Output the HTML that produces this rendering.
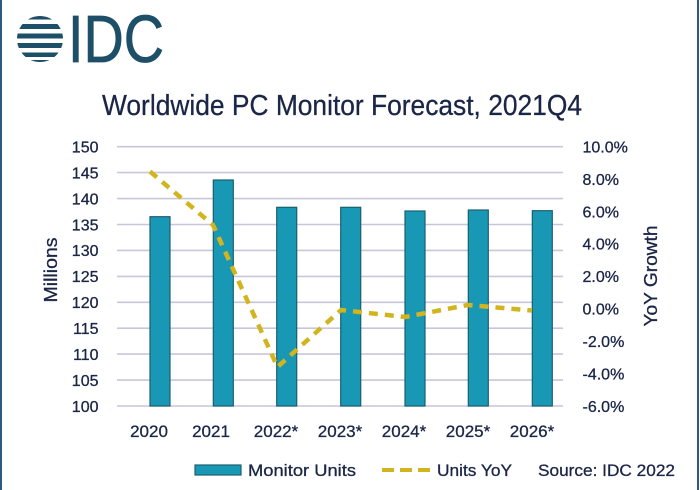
<!DOCTYPE html>
<html>
<head>
<meta charset="utf-8">
<style>
html,body{margin:0;padding:0;background:#fff;}
svg{display:block;}
text{font-family:"Liberation Sans","DejaVu Sans",sans-serif;fill:#1b2647;stroke:#1b2647;stroke-width:0.3px;}
</style>
</head>
<body>
<svg width="700" height="490" viewBox="0 0 700 490" xmlns="http://www.w3.org/2000/svg">
<rect x="0" y="0" width="700" height="490" fill="#fff"/>
<!-- side borders -->
<rect x="0" y="0" width="2" height="490" fill="#2c5a86"/>
<rect x="697" y="0" width="2" height="490" fill="#2c5a86"/>

<!-- IDC logo -->
<defs>
<clipPath id="gc"><circle cx="40" cy="39" r="23"/></clipPath>
</defs>
<g clip-path="url(#gc)" fill="#1d4f68">
<rect x="10" y="15" width="60" height="4.5"/>
<rect x="10" y="24" width="60" height="5"/>
<rect x="10" y="33.5" width="60" height="5"/>
<rect x="10" y="43" width="60" height="5"/>
<rect x="10" y="52.5" width="60" height="4.5"/>
<rect x="10" y="60" width="60" height="4"/>
</g>
<text x="68" y="62" font-size="67" textLength="96" lengthAdjust="spacingAndGlyphs" style="fill:#1d4f68;stroke:#1d4f68;stroke-width:0.8px">IDC</text>

<!-- title -->
<text x="102" y="115" font-size="29" textLength="480" lengthAdjust="spacingAndGlyphs">Worldwide PC Monitor Forecast, 2021Q4</text>

<!-- gridlines -->
<g stroke="#c9c6da" stroke-width="1.6">
<line x1="117" y1="146.7" x2="563" y2="146.7"/>
<line x1="117" y1="172.6" x2="563" y2="172.6"/>
<line x1="117" y1="198.6" x2="563" y2="198.6"/>
<line x1="117" y1="224.5" x2="563" y2="224.5"/>
<line x1="117" y1="250.4" x2="563" y2="250.4"/>
<line x1="117" y1="276.4" x2="563" y2="276.4"/>
<line x1="117" y1="302.3" x2="563" y2="302.3"/>
<line x1="117" y1="328.2" x2="563" y2="328.2"/>
<line x1="117" y1="354.1" x2="563" y2="354.1"/>
<line x1="117" y1="380.1" x2="563" y2="380.1"/>
<line x1="117" y1="406" x2="563" y2="406"/>
</g>

<!-- left tick labels -->
<g font-size="16" text-anchor="end">
<text x="98.5" y="152.5">150</text>
<text x="98.5" y="178.4">145</text>
<text x="98.5" y="204.4">140</text>
<text x="98.5" y="230.3">135</text>
<text x="98.5" y="256.2">130</text>
<text x="98.5" y="282.2">125</text>
<text x="98.5" y="308.1">120</text>
<text x="98.5" y="334">115</text>
<text x="98.5" y="359.9">110</text>
<text x="98.5" y="385.9">105</text>
<text x="98.5" y="411.8">100</text>
</g>

<!-- right tick labels -->
<g font-size="16" text-anchor="start">
<text x="582.5" y="152.5">10.0%</text>
<text x="582.5" y="184.9">8.0%</text>
<text x="582.5" y="217.3">6.0%</text>
<text x="582.5" y="249.7">4.0%</text>
<text x="582.5" y="282.1">2.0%</text>
<text x="582.5" y="314.5">0.0%</text>
<text x="582.5" y="346.9">-2.0%</text>
<text x="582.5" y="379.3">-4.0%</text>
<text x="582.5" y="411.8">-6.0%</text>
</g>

<!-- axis titles -->
<text transform="translate(57,270) rotate(-90)" font-size="18" text-anchor="middle" textLength="65" lengthAdjust="spacingAndGlyphs">Millions</text>
<text transform="translate(657,276) rotate(-90)" font-size="18" text-anchor="middle" textLength="101" lengthAdjust="spacingAndGlyphs">YoY Growth</text>

<!-- bars -->
<g fill="#1898b5" stroke="#1c5f70" stroke-width="1.2">
<rect x="150" y="216.7" width="20" height="189.3"/>
<rect x="213.3" y="180" width="20" height="226"/>
<rect x="276.7" y="207.3" width="20" height="198.7"/>
<rect x="340.7" y="207.3" width="20" height="198.7"/>
<rect x="405" y="211" width="20" height="195"/>
<rect x="468.3" y="210" width="20" height="196"/>
<rect x="532.3" y="210.7" width="20" height="195.3"/>
</g>

<!-- YoY line -->
<polyline points="150,171.5 213,225 277.5,367 341,310 405,317 468,305 532,310.5" fill="none" stroke="#d2b51e" stroke-width="4.5" stroke-dasharray="9 7" stroke-linejoin="round"/>

<!-- x labels -->
<g font-size="17" text-anchor="middle">
<text x="149" y="437">2020</text>
<text x="211" y="437">2021</text>
<text x="276" y="437">2022*</text>
<text x="340" y="437">2023*</text>
<text x="404" y="437">2024*</text>
<text x="468" y="437">2025*</text>
<text x="532" y="437">2026*</text>
</g>

<!-- legend -->
<rect x="195" y="465" width="46" height="10" fill="#1898b5" stroke="#1c5f70" stroke-width="1.2"/>
<text x="248" y="476" font-size="17" textLength="108" lengthAdjust="spacingAndGlyphs">Monitor Units</text>
<line x1="382" y1="470" x2="430" y2="470" stroke="#d2b51e" stroke-width="4" stroke-dasharray="12 6"/>
<text x="437" y="476" font-size="17" textLength="75" lengthAdjust="spacingAndGlyphs">Units YoY</text>
<text x="538" y="476" font-size="17" textLength="137" lengthAdjust="spacingAndGlyphs">Source: IDC 2022</text>
</svg>
</body>
</html>
